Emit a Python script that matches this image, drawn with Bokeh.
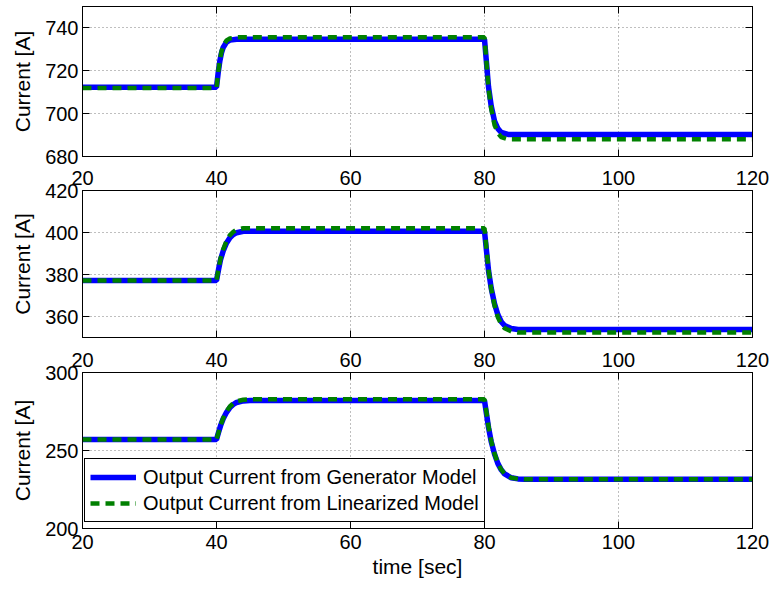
from bokeh.plotting import figure
from bokeh.models import LinearAxis, FixedTicker, Range1d
from bokeh.layouts import column
from bokeh.embed import file_html
from bokeh.resources import INLINE

# ---------------- data ----------------
x_ticks = [20, 40, 60, 80, 100, 120]

# panel 1
t1 = [20, 40, 40.25, 40.5, 40.75, 41, 41.5, 42, 43, 80, 80.3, 80.6, 81, 81.5, 82, 82.5, 83.5, 120]
gen1 = [712.3, 712.3, 719.0, 724.6, 728.4, 730.9, 733.4, 734.3, 734.7, 734.7,
        723.6, 712.5, 703.6, 696.5, 693.0, 691.2, 690.3, 690.3]
lin1 = [712.0, 712.0, 719.1, 725.0, 729.0, 731.6, 734.2, 735.1, 735.6, 735.6,
        723.7, 711.8, 702.3, 694.7, 691.0, 689.0, 688.0, 688.0]
y1_ticks = [680, 700, 720, 740]

# panel 2
t2 = [20, 40, 40.3, 40.6, 41, 41.5, 42, 42.5, 43, 44, 80, 80.3, 80.6, 81, 81.5, 82, 82.5, 83, 84, 85, 120]
gen2 = [377.1, 377.1, 382.3, 387.0, 391.2, 395.0, 397.5, 399.0, 399.9, 400.6, 400.6,
        391.2, 381.9, 373.5, 366.0, 360.8, 357.5, 355.7, 354.3, 353.8, 353.8]
lin2 = [377.1, 377.1, 382.6, 387.6, 392.0, 396.0, 398.8, 400.3, 401.3, 402.0, 402.0,
        392.1, 382.2, 373.2, 365.3, 359.6, 356.2, 354.4, 352.9, 352.4, 352.4]
y2_ticks = [360, 380, 400, 420]

# panel 3
t3 = [20, 40, 40.3, 40.6, 41, 41.5, 42, 42.5, 43, 44, 45, 80, 80.3, 80.6, 81, 81.5, 82, 82.5, 83, 84, 85, 86, 120]
gen3 = [257.0, 257.0, 261.5, 265.8, 270.3, 274.5, 277.5, 279.5, 280.8, 281.8, 282.0, 282.0,
        273.4, 264.8, 255.7, 247.7, 241.6, 237.6, 235.0, 232.5, 231.8, 231.5, 231.5]
lin3 = [257.0, 257.0, 261.6, 266.0, 270.7, 275.1, 278.2, 280.2, 281.5, 282.5, 282.8, 282.8,
        274.1, 265.4, 256.1, 247.9, 241.8, 237.7, 235.1, 232.5, 231.8, 231.5, 231.5]
y3_ticks = [200, 250, 300]

labels = ["Output Current from Generator Model", "Output Current from Linearized Model"]
y_label = "Current [A]"
x_label = "time [sec]"

FONT = "Liberation Sans"
TICK_FS = "20px"
LABEL_FS = "21px"
LEGEND_FS = "20px"
BLUE = "#0000FF"
GREEN = "#008000"


def style_axis(ax, show_labels):
    ax.axis_line_color = "black"
    ax.major_tick_line_color = "black"
    ax.major_tick_in = 7
    ax.major_tick_out = 0
    ax.minor_tick_line_color = None
    ax.major_label_text_font = FONT
    if show_labels:
        ax.major_label_text_color = "black"
        ax.major_label_text_font_size = TICK_FS
        ax.major_label_standoff = 6
    else:
        ax.major_label_text_color = None
        ax.major_label_text_alpha = 0
        ax.major_label_text_font_size = "0px"
        ax.major_label_standoff = 0


def make_panel(height, mb_top, mb_bottom, yr, yt, t, gen, lin,
               top_labels, bottom_labels, xlab=None, legend=False):
    p = figure(width=770, height=height, output_backend="svg", toolbar_location=None,
               x_range=Range1d(20, 120), y_range=Range1d(*yr),
               min_border_left=82, min_border_right=18,
               min_border_top=mb_top, min_border_bottom=mb_bottom)
    p.add_layout(LinearAxis(), "above")
    p.add_layout(LinearAxis(), "right")
    p.background_fill_color = "white"
    p.border_fill_color = "white"
    p.outline_line_color = "black"
    p.outline_line_alpha = 1
    p.outline_line_width = 1

    p.xaxis.ticker = FixedTicker(ticks=x_ticks)
    p.yaxis.ticker = FixedTicker(ticks=yt)
    p.xgrid.ticker = FixedTicker(ticks=x_ticks)
    p.ygrid.ticker = FixedTicker(ticks=yt)
    for g in (p.xgrid[0], p.ygrid[0]):
        g.grid_line_color = "black"
        g.grid_line_alpha = 0.5
        g.grid_line_dash = "1 3"
        g.grid_line_width = 1

    style_axis(p.below[0], bottom_labels)
    style_axis(p.above[0], top_labels)
    style_axis(p.left[0], True)
    style_axis(p.right[0], False)

    yl = p.left[0]
    yl.axis_label = y_label
    yl.axis_label_text_font = FONT
    yl.axis_label_text_font_size = LABEL_FS
    yl.axis_label_text_font_style = "normal"
    yl.axis_label_text_color = "black"
    yl.axis_label_standoff = 8
    yl.major_label_standoff = 4

    if xlab:
        xb = p.below[0]
        xb.axis_label = xlab
        xb.axis_label_text_font = FONT
        xb.axis_label_text_font_size = LABEL_FS
        xb.axis_label_text_font_style = "normal"
        xb.axis_label_text_color = "black"
        xb.axis_label_standoff = 3

    if legend:
        p.line(t, gen, line_color=BLUE, line_width=5.5, legend_label=labels[0])
        p.line(t, lin, line_color=GREEN, line_width=4.5, line_dash="9 6", legend_label=labels[1])
        lg = p.legend[0]
        lg.location = (2, 6)
        lg.label_text_font = FONT
        lg.label_text_font_size = LEGEND_FS
        lg.label_text_color = "black"
        lg.border_line_color = "black"
        lg.border_line_width = 1
        lg.border_line_alpha = 1
        lg.background_fill_alpha = 1
        lg.padding = 5
        lg.spacing = 0
        lg.margin = 0
        lg.glyph_width = 46
        lg.glyph_height = 26
        lg.label_height = 26
        lg.label_standoff = 7
    else:
        p.line(t, gen, line_color=BLUE, line_width=5.5)
        p.line(t, lin, line_color=GREEN, line_width=4.5, line_dash="9 6")
    return p


p1 = make_panel(165, 6, 9, (680, 750), y1_ticks, t1, gen1, lin1, False, False)
p2 = make_panel(175, 25, 3, (350, 420), y2_ticks, t2, gen2, lin2, True, False)
p3 = make_panel(247, 32, 59, (200, 300), y3_ticks, t3, gen3, lin3, True, True,
                xlab=x_label, legend=True)

layout = column(p1, p2, p3, spacing=0)
open("out.html", "w").write(file_html(layout, INLINE))
